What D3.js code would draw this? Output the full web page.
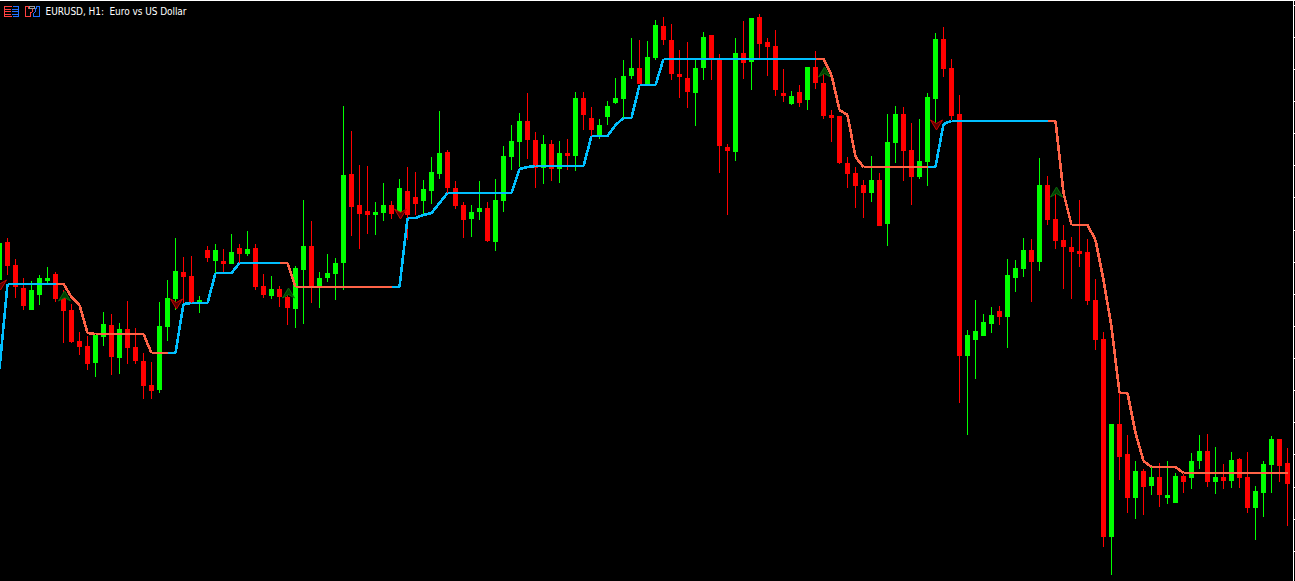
<!DOCTYPE html>
<html>
<head>
<meta charset="utf-8">
<title>EURUSD, H1</title>
<script src="https://d3js.org/d3.v7.min.js"></script>
<style>
html,body{margin:0;padding:0;background:#000;overflow:hidden}
svg{display:block}
</style>
</head>
<body>
<script>
// Prices are expressed in points.
const chartTitle = "EURUSD, H1:  Euro vs US Dollar";
const opens = [720,758,735,712,690,705,719,726,702,690,659,654,637,663,675,642,671,653,639,615,610,673,701,728,724,698,750,739,739,736,752,746,752,714,704,711,703,691,730,754,714,722,726,737,826,795,789,785,787,795,787,809,803,799,809,826,848,812,795,781,788,792,758,799,843,858,879,860,832,856,831,847,844,902,882,863,883,897,901,924,932,916,942,974,960,926,922,907,932,965,941,853,848,947,938,983,958,954,907,896,908,900,933,917,885,884,837,827,815,807,820,776,857,886,850,823,838,901,961,932,886,644,660,664,676,689,683,722,731,750,738,815,781,760,753,749,748,700,661,463,576,546,502,529,514,523,502,497,524,522,539,549,518,523,519,541,523,492,507,535,561,537];
const highs = [759,762,741,722,719,725,733,728,710,696,668,664,665,688,686,677,699,672,647,638,698,720,762,743,744,704,754,756,751,766,756,769,756,726,724,714,710,734,800,779,728,746,742,894,869,835,834,798,817,799,821,833,828,820,843,889,850,819,798,795,819,798,821,854,875,887,907,868,865,860,859,861,908,908,893,881,899,922,940,962,960,959,980,983,976,950,958,940,968,965,946,856,962,979,982,986,962,970,931,909,915,933,949,930,890,884,843,833,820,844,827,886,894,893,877,881,907,967,973,941,905,670,700,686,693,694,741,740,762,761,842,824,810,775,763,800,761,721,668,576,607,565,539,531,533,537,539,527,526,547,565,566,553,536,548,542,548,514,539,564,561,552];
const lows = [717,725,702,690,690,695,717,698,657,657,645,630,623,654,625,626,636,636,601,601,607,659,690,697,697,687,738,727,728,736,737,744,710,702,701,693,675,672,676,697,692,718,700,710,764,751,766,765,779,781,782,760,785,785,796,821,807,791,762,763,780,758,749,788,830,833,841,812,816,819,817,830,829,870,864,861,875,896,882,921,916,915,940,955,920,902,892,874,920,920,827,785,839,921,910,941,924,904,898,895,893,890,911,881,858,836,812,792,782,798,774,754,837,819,795,821,814,873,923,880,597,565,621,664,667,675,652,708,723,698,729,775,751,711,701,733,695,650,453,425,520,487,481,485,505,493,496,497,507,511,531,513,506,511,512,512,487,460,483,507,518,474];
const closes = [757,734,713,694,710,722,722,701,689,658,653,636,665,676,643,671,652,639,614,609,674,702,729,723,698,700,742,750,736,748,746,751,713,705,711,703,692,732,754,714,722,727,737,825,793,786,785,788,795,786,812,785,796,811,828,847,812,794,780,788,792,759,800,844,859,879,860,832,856,831,847,844,902,885,870,875,894,902,924,932,916,943,975,960,926,923,908,932,963,941,854,849,947,937,982,956,953,910,904,904,897,933,917,884,882,837,826,814,807,820,774,858,886,849,823,839,903,961,931,884,644,665,669,678,685,683,725,732,750,738,815,780,759,753,748,746,699,660,463,576,543,502,529,513,523,505,505,524,518,539,549,518,523,519,540,522,492,509,536,561,534,516];
// Trailing indicator value on every bar, and the bars where its colour flips.
const lineValues = [631,716,716,716,716,716,716,716,716,703,695,667,666,666,666,666,666,666,666,647,647,647,647,696,697,697,697,727,727,727,737,737,737,737,737,737,737,713,713,713,713,713,713,713,713,713,713,713,713,713,713,782,782,785,787,797,807,807,807,807,807,807,807,807,807,831,833,834,834,834,834,834,834,834,864,864,864,875,882,882,915,915,915,941,941,941,941,941,941,941,941,941,941,941,941,941,941,941,941,941,941,941,941,941,925,890,885,843,833,833,833,833,833,833,833,833,833,833,876,879,879,879,879,879,879,879,879,879,879,879,879,879,879,807,775,775,775,760,720,673,607,607,567,539,533,533,533,533,527,527,527,527,527,527,527,527,527,527,527,527,527,527];
const trendFlipBars = [8,22,36,50,103,117,132];
// Signal arrows: bar index, price level.
const upArrowBars = [8,36,103,132];
const upArrowPrices = [704,707,928,808];
const downArrowBars = [0,22,50,117];
const downArrowPrices = [715,696,786,875];
const priceTicks = [995,963,931,899,867,835,803,770,738,706,674,642,610,578,546,513,481,449];

const W = 1295, H = 581, axisX = 1292;
const UP = "#00ff00", DOWN = "#ff0000", BLUE = "#00bfff", ORANGE = "#ff6347";
const bars = d3.range(opens.length);

const x = d3.scaleLinear().domain([0, 161]).range([-0.5, 1287.5]);
const y = d3.scaleLinear().domain([419, 1000]).range([H, 0]);

const svg = d3.select("body").append("svg").attr("width", W).attr("height", H)
  .style("background", "#000");

// frame + price axis
svg.append("rect").attr("x", 0).attr("y", 0).attr("width", axisX + 1).attr("height", 1).attr("fill", "#fff");
const axis = svg.append("g").attr("transform", `translate(${axisX + 0.5},0)`)
  .call(d3.axisRight(y).tickValues(priceTicks).tickSize(3).tickFormat(""));
axis.selectAll("path,line").attr("stroke", "#fff").attr("stroke-width", 1).attr("shape-rendering", "crispEdges");

// candles
const candles = svg.append("g").attr("shape-rendering", "crispEdges");
candles.selectAll("line").data(bars).join("line")
  .attr("x1", d => x(d)).attr("x2", d => x(d))
  .attr("y1", d => y(highs[d])).attr("y2", d => y(lows[d]))
  .attr("stroke", d => closes[d] >= opens[d] ? UP : DOWN).attr("stroke-width", 1);
candles.selectAll("rect").data(bars).join("rect")
  .attr("x", d => x(d) - 2.5).attr("width", 5)
  .attr("y", d => y(Math.max(opens[d], closes[d])))
  .attr("height", d => Math.max(1, Math.abs(y(opens[d]) - y(closes[d]))))
  .attr("fill", d => closes[d] >= opens[d] ? UP : DOWN);

// signal arrows
const upGlyph = "M0,-5L6,5L0,1.5L-6,5Z", downGlyph = "M0,5L6,-5L0,-1.5L-6,-5Z";
const arrows = svg.append("g");
arrows.selectAll(".up").data(upArrowBars).join("path").attr("class", "up")
  .attr("d", upGlyph)
  .attr("transform", (d, i) => `translate(${x(d) + 1},${y(upArrowPrices[i])})`)
  .attr("fill", "#003f00").attr("stroke", "#0b6b0b").attr("stroke-width", 1);
arrows.selectAll(".down").data(downArrowBars).join("path").attr("class", "down")
  .attr("d", downGlyph)
  .attr("transform", (d, i) => `translate(${x(d) + 1},${y(downArrowPrices[i])})`)
  .attr("fill", "#5a0000").attr("stroke", "#cc0000").attr("stroke-width", 1);

// indicator line, drawn bar to bar and coloured by its trend state
const isBlue = k => trendFlipBars.filter(b => b <= k).length % 2 === 0;
const segment = d3.line().x(d => x(d)).y(d => y(lineValues[d]));
svg.append("g").attr("fill", "none").attr("stroke-width", 2.6).attr("shape-rendering", "crispEdges")
  .attr("stroke-linejoin", "round")
  .selectAll("path").data(bars.slice(1)).join("path")
  .attr("d", k => segment([k - 1, k]))
  .attr("stroke", k => isBlue(k) ? BLUE : ORANGE);

// header icons
const icons = svg.append("g").attr("fill", "none").attr("stroke-width", 1).attr("shape-rendering", "crispEdges");
icons.append("path").attr("stroke", "#ff4040").attr("d", "M11.5,6.5H4.5V16.5H11.5M5,9.5H11M5,11.5H11M5,14.5H11");
icons.append("path").attr("stroke", "#2070ff").attr("d", "M12.5,6.5H18.5V16.5H12.5M12,9.5H18M12,11.5H18M12,14.5H18");
icons.append("path").attr("stroke", "#ff4040").attr("d", "M25.5,6.5H28.5V8.5H32.5V11.5L30.5,13V16.5H25.5Z");
icons.append("path").attr("stroke", "#2070ff").attr("d", "M33.5,13.5L35.5,11.5V8.5H36.5V6.5H39.5V16.5H33.5Z");
icons.append("rect").attr("x", 29.5).attr("y", 6.5).attr("width", 5).attr("height", 2).attr("stroke", "#9a9a9a");

svg.append("text").attr("x", 45.5).attr("y", 15)
  .attr("fill", "#fff").attr("font-family", "'DejaVu Sans Condensed', 'DejaVu Sans', sans-serif")
  .attr("font-stretch", "condensed").attr("font-size", 10)
  .attr("textLength", 141).attr("lengthAdjust", "spacing")
  .attr("xml:space", "preserve").style("white-space", "pre")
  .text(chartTitle);
</script>
</body>
</html>
